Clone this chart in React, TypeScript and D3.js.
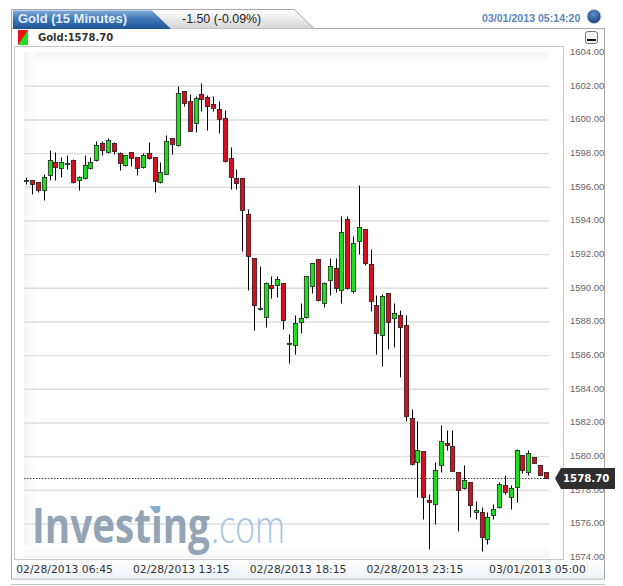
import React, { useEffect, useRef } from "react";
import * as d3 from "d3";

const opens = [
  1596.45, 1596.41, 1596.3, 1595.82, 1596.71, 1597.48, 1597.13, 1597.44, 1597.6, 1596.41,
  1596.53, 1597.13, 1597.6, 1598.61, 1598.08, 1598.61, 1598.02, 1597.31, 1598.08, 1597.78,
  1597.19, 1598.02, 1597.78, 1596.3, 1596.81, 1598.91, 1598.49, 1601.7, 1601.11, 1599.8,
  1601.52, 1601.35, 1600.93, 1600.63, 1600.1, 1597.72, 1596.53, 1596.53, 1594.39, 1591.78,
  1588.83, 1588.27, 1590.18, 1590.18, 1590.29, 1586.75, 1586.61, 1587.98, 1588.27, 1590.12,
  1591.72, 1589.11, 1590.47, 1591.19, 1589.88, 1594.1, 1589.82, 1592.79, 1593.5, 1591.42,
  1588.99, 1587.2, 1589.7, 1588.21, 1588.39, 1587.8, 1582.27, 1579.66, 1580.31, 1577.4,
  1577.16, 1579.48, 1580.79, 1580.61, 1579.06, 1578.11, 1578.47, 1576.69, 1576.69, 1575.08,
  1576.51, 1576.98, 1578.29, 1577.58, 1578.17, 1580.07, 1579.06, 1579.96, 1579.48, 1579.06,
];
const highs = [
  1596.59, 1596.41, 1596.3, 1596.79, 1598.21, 1598.1, 1597.78, 1597.9, 1597.66, 1596.65,
  1597.9, 1597.78, 1598.73, 1598.73, 1598.91, 1598.69, 1598.08, 1597.94, 1598.11, 1597.78,
  1598.02, 1598.69, 1597.78, 1597.48, 1599.09, 1598.91, 1602.0, 1601.7, 1601.52, 1601.41,
  1602.2, 1601.48, 1601.41, 1601.11, 1600.59, 1598.41, 1597.1, 1596.53, 1594.69, 1591.78,
  1591.3, 1590.35, 1590.71, 1590.71, 1590.29, 1587.31, 1588.39, 1589.11, 1590.71, 1591.5,
  1591.72, 1590.37, 1591.78, 1591.78, 1594.28, 1594.28, 1593.09, 1596.12, 1593.5, 1592.31,
  1589.58, 1589.64, 1589.7, 1589.11, 1588.69, 1588.39, 1582.81, 1582.09, 1580.31, 1577.76,
  1579.66, 1581.86, 1581.56, 1581.56, 1579.06, 1579.48, 1578.47, 1577.38, 1576.98, 1576.69,
  1577.16, 1578.47, 1578.89, 1578.29, 1580.47, 1580.07, 1580.37, 1579.96, 1579.48, 1579.06,
];
const lows = [
  1596.19, 1595.62, 1595.72, 1595.23, 1596.41, 1596.41, 1596.61, 1597.1, 1596.24, 1595.82,
  1596.51, 1597.1, 1597.54, 1597.9, 1598.05, 1597.96, 1597.01, 1597.25, 1597.28, 1596.71,
  1597.13, 1597.7, 1595.7, 1596.27, 1596.81, 1598.0, 1598.47, 1600.81, 1599.33, 1599.3,
  1600.51, 1599.42, 1600.51, 1599.21, 1597.52, 1595.92, 1595.92, 1592.21, 1589.9, 1587.5,
  1588.69, 1587.68, 1589.4, 1589.5, 1587.6, 1585.59, 1586.11, 1587.32, 1588.25, 1589.7,
  1589.26, 1588.9, 1589.6, 1589.8, 1589.11, 1589.94, 1589.7, 1592.02, 1591.4, 1588.63,
  1586.11, 1585.4, 1586.41, 1586.53, 1584.71, 1582.09, 1579.51, 1577.58, 1576.27, 1574.49,
  1575.97, 1579.06, 1580.37, 1579.12, 1575.59, 1578.05, 1576.39, 1576.27, 1574.41, 1574.79,
  1576.27, 1576.96, 1577.78, 1576.88, 1577.28, 1579.0, 1578.9, 1579.6, 1578.89, 1578.7,
];
const closes = [
  1596.45, 1596.21, 1595.86, 1596.59, 1597.6, 1597.19, 1597.48, 1597.44, 1596.3, 1596.59,
  1597.31, 1597.48, 1598.49, 1598.2, 1598.79, 1598.14, 1597.42, 1597.9, 1597.72, 1597.13,
  1597.9, 1597.72, 1596.4, 1596.89, 1598.73, 1598.59, 1601.58, 1600.99, 1599.36, 1601.29,
  1601.23, 1600.81, 1600.69, 1600.04, 1597.58, 1596.59, 1596.27, 1594.63, 1591.9, 1588.99,
  1588.83, 1590.29, 1590.0, 1590.53, 1588.1, 1586.75, 1587.92, 1588.21, 1590.71, 1591.48,
  1589.28, 1590.29, 1591.3, 1590.0, 1593.32, 1590.0, 1592.67, 1593.62, 1591.48, 1589.22,
  1587.32, 1589.52, 1587.98, 1588.51, 1587.68, 1582.39, 1579.57, 1580.37, 1577.58, 1577.28,
  1579.18, 1580.91, 1580.67, 1579.16, 1578.0, 1578.59, 1577.1, 1576.81, 1575.2, 1576.39,
  1576.87, 1578.35, 1577.88, 1578.11, 1580.37, 1579.18, 1580.19, 1579.6, 1578.89, 1578.7,
];
const priceTicks = [1604, 1602, 1600, 1598, 1596, 1594, 1592, 1590, 1588, 1586, 1584, 1582, 1580, 1578, 1576, 1574];
const timeLabels = ["02/28/2013 06:45", "02/28/2013 13:15", "02/28/2013 18:15", "02/28/2013 23:15", "03/01/2013 05:00"];
const timeLabelIndex = [7, 27, 47, 67, 88];
const lastPrice = 1578.7;

const verdana = "'DejaVu Sans', sans-serif";
const arial = "'Liberation Sans', Arial, sans-serif";

const App: React.FC = () => {
  const ref = useRef<SVGSVGElement>(null);

  useEffect(() => {
    const svg = d3.select(ref.current);
    svg.selectAll("*").remove();

    const yScale = d3.scaleLinear().domain([1574, 1604]).range([557.6, 52.6]);
    const xScale = d3.scalePoint<number>().domain(d3.range(opens.length)).range([26.7, 546.3]);

    const defs = svg.append("defs");
    const grad = (id: string, x2: number, y2: number, stops: [number, string][]) => {
      const g = defs.append("linearGradient").attr("id", id).attr("x1", 0).attr("y1", 0).attr("x2", x2).attr("y2", y2);
      stops.forEach(([o, c]) => g.append("stop").attr("offset", o).attr("stop-color", c));
    };
    grad("blueTab", 0, 1, [[0, "#7fa9d6"], [0.45, "#3f78b5"], [1, "#1b5596"]]);
    grad("grayTab", 0, 1, [[0, "#ffffff"], [1, "#d4d4d4"]]);
    grad("fadeTop", 0, 1, [[0, "#f5f5f5"], [1, "#ffffff"]]);
    grad("fadeLeft", 1, 0, [[0, "#f5f5f5"], [1, "#ffffff"]]);
    grad("fadeBottom", 0, 1, [[0, "#ffffff"], [1, "#f4f4f4"]]);
    grad("axisStrip", 0, 1, [[0, "#ffffff"], [1, "#edf2f8"]]);
    const globe = defs.append("radialGradient").attr("id", "globe").attr("cx", 0.45).attr("cy", 0.35).attr("r", 0.7);
    globe.append("stop").attr("offset", 0).attr("stop-color", "#5f92d0");
    globe.append("stop").attr("offset", 1).attr("stop-color", "#123a70");

    // outer frame and tabs
    svg.append("rect").attr("x", 11.5).attr("y", 28.5).attr("width", 593).attr("height", 550.5)
      .attr("fill", "#fff").attr("stroke", "#a8a8a8");
    svg.append("path").attr("d", "M11.5 29V9.5H294.5L314 28.5").attr("fill", "url(#grayTab)").attr("stroke", "#a8a8a8");
    svg.append("path").attr("d", "M13 29V10.5H152L171 29Z").attr("fill", "url(#blueTab)");
    svg.append("line").attr("x1", 11).attr("x2", 605).attr("y1", 584.5).attr("y2", 584.5).attr("stroke", "#c4c4c4");

    svg.append("text").attr("x", 18).attr("y", 23).attr("fill", "#e4eefa")
      .attr("font-family", arial).attr("font-weight", 700).attr("font-size", 13).text("Gold (15 Minutes)");
    svg.append("text").attr("x", 182).attr("y", 23).attr("fill", "#222")
      .attr("font-family", arial).attr("font-size", 12.4).text("-1.50 (-0.09%)");
    svg.append("text").attr("x", 482).attr("y", 22).attr("fill", "#5a86b8")
      .attr("font-family", arial).attr("font-weight", 700).attr("font-size", 10.6).text("03/01/2013 05:14:20");
    svg.append("circle").attr("cx", 594).attr("cy", 16.5).attr("r", 7).attr("fill", "url(#globe)").attr("stroke", "#c5cdd8").attr("stroke-width", 1);

    // legend row
    svg.append("path").attr("d", "M18 30H28V45H18Z").attr("fill", "#22dd22");
    svg.append("path").attr("d", "M18 30H28L18 45Z").attr("fill", "#ee1111");
    svg.append("text").attr("x", 38).attr("y", 41).attr("fill", "#333")
      .attr("font-family", verdana).attr("font-weight", 700).attr("font-size", 10).text("Gold:1578.70");
    svg.append("rect").attr("x", 585.5).attr("y", 31.5).attr("width", 12).attr("height", 12).attr("rx", 2.5)
      .attr("fill", "#f4f4f4").attr("stroke", "#777");
    svg.append("rect").attr("x", 587).attr("y", 39).attr("width", 9).attr("height", 2).attr("fill", "#111");

    // plot area
    svg.append("rect").attr("x", 14.5).attr("y", 46.5).attr("width", 549).attr("height", 513)
      .attr("fill", "#fff").attr("stroke", "#c8c8c8");
    svg.append("rect").attr("x", 24).attr("y", 52).attr("width", 525).attr("height", 12).attr("fill", "url(#fadeTop)");
    svg.append("rect").attr("x", 24).attr("y", 52).attr("width", 12).attr("height", 503).attr("fill", "url(#fadeLeft)");
    svg.append("rect").attr("x", 24).attr("y", 546).attr("width", 525).attr("height", 12).attr("fill", "url(#fadeBottom)");
    svg.append("rect").attr("x", 15).attr("y", 560).attr("width", 589).attr("height", 18.5).attr("fill", "url(#axisStrip)");
    svg.append("rect").attr("x", 14.5).attr("y", 46.5).attr("width", 549).attr("height", 513)
      .attr("fill", "none").attr("stroke", "#c8c8c8");

    // grid
    svg.append("g").selectAll("line").data(priceTicks.slice(1, -1)).join("line")
      .attr("x1", 24).attr("x2", 549)
      .attr("y1", (d) => yScale(d)).attr("y2", (d) => yScale(d))
      .attr("stroke", "#dedede").attr("stroke-width", 1.4);

    // logo, under the candles, squeezed to the measured width
    const logo = svg.append("g").attr("opacity", 0.92);
    const logoWord = (word: string, x: number, w: number, size: number, weight: number, color: string) => {
      const t = logo.append("text").attr("fill", color)
        .attr("font-family", "'Open Sans', sans-serif").attr("font-weight", weight).attr("font-size", size).text(word);
      const natural = (t.node() as SVGTextElement).getComputedTextLength();
      t.attr("transform", `translate(${x},543) scale(${w / natural},1)`);
    };
    logoWord("Investing", 32, 178, 49, 700, "#8c9db1");
    logoWord(".com", 211, 74, 46, 300, "#a4c0de");
    logo.append("path").attr("d", "M149.5 506H161L155.2 514Z").attr("fill", "#7fa6cf");

    // last price dotted line
    svg.append("line").attr("x1", 24).attr("x2", 549)
      .attr("y1", Math.round(yScale(lastPrice)) + 0.5).attr("y2", Math.round(yScale(lastPrice)) + 0.5)
      .attr("stroke", "#444").attr("stroke-dasharray", "1.5,1.5");

    // candles
    const cx = (i: number) => Math.floor(xScale(i) as number) + 0.5;
    const sy = (v: number) => Math.round(yScale(v)) + 0.5;
    const candles = svg.append("g").selectAll("g").data(d3.range(opens.length)).join("g");
    candles.append("line")
      .attr("x1", cx).attr("x2", cx)
      .attr("y1", (i) => sy(highs[i])).attr("y2", (i) => sy(lows[i]))
      .attr("stroke", "#000");
    candles.append("rect")
      .attr("x", (i) => cx(i) - 2.2).attr("width", 4.4)
      .attr("y", (i) => sy(Math.max(opens[i], closes[i])))
      .attr("height", (i) => Math.max(sy(Math.min(opens[i], closes[i])) - sy(Math.max(opens[i], closes[i])), 1))
      .attr("fill", (i) => (closes[i] >= opens[i] ? "#1fdc1f" : "#d4101e"))
      .attr("stroke", "#111").attr("stroke-width", 0.7);

    // price axis
    const axis = d3.axisRight(yScale).tickValues(priceTicks).tickSize(0).tickPadding(0).tickFormat((d) => d3.format(".2f")(d as number));
    const axisGroup = svg.append("g").attr("transform", "translate(570,-1)").call(axis);
    axisGroup.select(".domain").remove();
    axisGroup.selectAll("text").attr("font-family", arial).attr("font-size", 9.5).attr("fill", "#666");

    // time labels
    svg.append("g").selectAll("text").data(timeLabels).join("text")
      .attr("x", (_, i) => (xScale(timeLabelIndex[i]) as number) - 3)
      .attr("y", 573).attr("text-anchor", "middle")
      .attr("font-family", verdana).attr("font-size", 10.8).attr("fill", "#333")
      .text((d) => d);

    // last price tag
    const tagY = yScale(lastPrice);
    svg.append("path")
      .attr("d", `M555 ${tagY}L561 ${tagY - 10.5}H615V${tagY + 10.5}H561Z`)
      .attr("fill", "#2f2f2f");
    svg.append("text").attr("x", 563).attr("y", tagY + 4).attr("fill", "#fff")
      .attr("font-family", verdana).attr("font-weight", 700).attr("font-size", 10.2).text(d3.format(".2f")(lastPrice));
  }, []);

  return <svg ref={ref} width={623} height={586} style={{ position: "absolute", left: 0, top: 0 }}></svg>;
};

export default App;
